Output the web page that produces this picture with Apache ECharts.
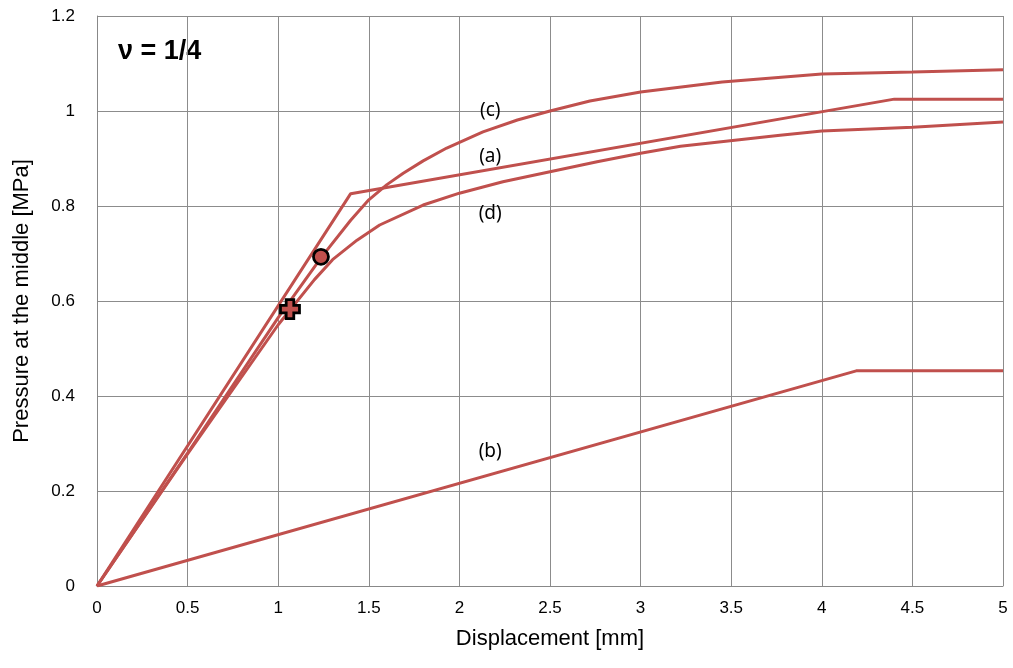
<!DOCTYPE html>
<html>
<head>
<meta charset="utf-8">
<script src="https://cdn.jsdelivr.net/npm/echarts@6/dist/echarts.min.js"></script>
<style>
  html, body { margin: 0; padding: 0; background: #fff; }
  #main { width: 1013px; height: 668px; }
</style>
</head>
<body>
<div id="main"></div>
<script>
// curve (a): bilinear with plateau
const curveA = [[0, 0], [1.40, 0.826], [4.40, 1.025], [5, 1.025]]
// curve (b)
const curveB = [[0, 0], [4.19, 0.453], [5, 0.453]]
// curve (c)
const curveC = [[0, 0], [0.5, 0.28], [1.0, 0.565], [1.24, 0.693], [1.4, 0.77], [1.5, 0.813],
  [1.6, 0.845], [1.69, 0.869], [1.8, 0.895], [1.93, 0.922], [2.13, 0.956], [2.32, 0.981], [2.5, 1.0], [2.72, 1.021],
  [3.0, 1.04], [3.45, 1.061], [4.0, 1.078], [4.5, 1.082], [5, 1.087]]
// curve (d)
const curveD = [[0, 0], [0.5, 0.278], [1.0, 0.55], [1.2, 0.645], [1.3, 0.687], [1.435, 0.728],
  [1.56, 0.76], [1.8, 0.802], [2.0, 0.827], [2.24, 0.851], [2.5, 0.872], [2.76, 0.893],
  [3.0, 0.911], [3.22, 0.926], [3.77, 0.949], [4.0, 0.958], [4.5, 0.966], [5, 0.977]]
// markers
const circlePt = [[1.236, 0.693]]
const plusPt = [[1.065, 0.583]]
// curve labels
const curveLabels = [['(c)', 2.17, 1.0], ['(a)', 2.17, 0.905], ['(d)', 2.17, 0.785], ['(b)', 2.17, 0.282]]

const red = '#C0504D'
const plusPath = 'path://M3,0 H7 V3 H10 V7 H7 V10 H3 V7 H0 V3 H3 Z'

const chart = echarts.init(document.getElementById('main'))
const lineSeries = (d) => ({
  type: 'line', data: d, showSymbol: false, symbol: 'none',
  lineStyle: { color: red, width: 3 }, silent: true, z: 2
})

chart.setOption({
  animation: false,
  grid: { left: 97, right: 10, top: 16, bottom: 82, containLabel: false, outerBoundsMode: 'none' },
  xAxis: {
    type: 'value', min: 0, max: 5, interval: 0.5,
    name: 'Displacement [mm]', nameLocation: 'middle', nameGap: 42,
    nameTextStyle: { fontFamily: 'Liberation Sans', fontSize: 22, color: '#000' },
    axisLine: { show: true, lineStyle: { color: '#888' } },
    axisTick: { show: false },
    axisLabel: { fontFamily: 'Liberation Sans', fontSize: 17, color: '#000', margin: 14 },
    splitLine: { show: true, lineStyle: { color: '#8c8c8c', width: 1 } }
  },
  yAxis: {
    type: 'value', min: 0, max: 1.2, interval: 0.2,
    name: 'Pressure at the middle [MPa]', nameLocation: 'middle', nameGap: 64,
    nameTextStyle: { fontFamily: 'Liberation Sans', fontSize: 22, color: '#000' },
    axisLine: { show: true, lineStyle: { color: '#888' } },
    axisTick: { show: false },
    axisLabel: { fontFamily: 'Liberation Sans', fontSize: 17, color: '#000', margin: 22 },
    splitLine: { show: true, lineStyle: { color: '#8c8c8c', width: 1 } }
  },
  series: [
    lineSeries(curveA),
    lineSeries(curveB),
    lineSeries(curveC),
    lineSeries(curveD),
    {
      type: 'scatter', data: circlePt, symbol: 'circle', symbolSize: 15, z: 5,
      itemStyle: { color: red, borderColor: '#000', borderWidth: 2.8, opacity: 1 }
    },
    {
      type: 'scatter', data: plusPt, symbol: plusPath, symbolSize: 19, z: 5,
      itemStyle: { color: red, borderColor: '#000', borderWidth: 2.8, opacity: 1 }
    },
    {
      type: 'scatter', data: curveLabels.map(l => ({ value: [l[1], l[2]], name: l[0] })),
      symbolSize: 1, silent: true, z: 6,
      itemStyle: { opacity: 0 },
      label: {
        show: true, position: 'inside', formatter: p => p.name,
        fontFamily: 'Noto Sans', fontSize: 19, color: '#000', opacity: 1
      }
    }
  ],
  graphic: [{
    type: 'text', left: 118, top: 38,
    style: { text: 'ν = 1/4', font: 'bold 27px "Liberation Sans"', fill: '#000' }
  }]
})
</script>
</body>
</html>
